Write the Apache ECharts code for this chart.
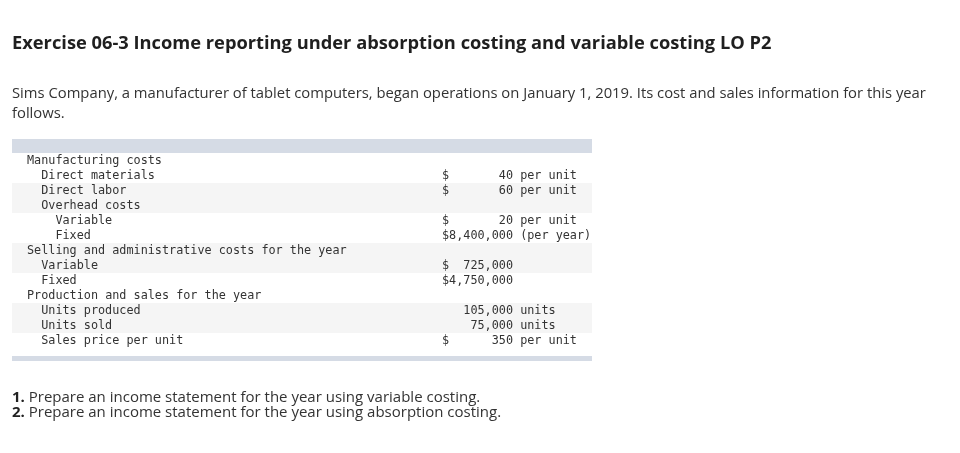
<!DOCTYPE html>
<html>
<head>
<meta charset="utf-8">
<script src="https://cdn.jsdelivr.net/npm/echarts@6/dist/echarts.min.js"></script>
<style>
html,body{margin:0;padding:0;background:#fff;}
#c{width:960px;height:453px;}
</style>
</head>
<body>
<div id="c"></div>
<script>
// ---- data ----
var heading = "Exercise 06-3 Income reporting under absorption costing and variable costing LO P2";
var introLines = [
  "Sims Company, a manufacturer of tablet computers, began operations on January 1, 2019. Its cost and sales information for this year",
  "follows."
];
var rowLabels = [
  "Manufacturing costs",
  "Direct materials",
  "Direct labor",
  "Overhead costs",
  "Variable",
  "Fixed",
  "Selling and administrative costs for the year",
  "Variable",
  "Fixed",
  "Production and sales for the year",
  "Units produced",
  "Units sold",
  "Sales price per unit"
];
var rowIndent = [0, 1, 1, 1, 2, 2, 0, 1, 1, 0, 1, 1, 1];
var rowAmounts = [null, 40, 60, null, 20, 8400000, null, 725000, 4750000, null, 105000, 75000, 350];
var rowDollar = [false, true, true, false, true, true, false, true, true, false, false, false, true];
var rowSuffix = ["", "per unit", "per unit", "", "per unit", "(per year)", "", "", "", "", "units", "units", "per unit"];
var questions = [
  ["1.", "Prepare an income statement for the year using variable costing."],
  ["2.", "Prepare an income statement for the year using absorption costing."]
];

// ---- build ----
function valueText(i) {
  if (rowAmounts[i] == null) return "";
  var s = (rowDollar[i] ? "$" : " ") + rowAmounts[i].toLocaleString("en-US").padStart(9, " ");
  if (rowSuffix[i]) s += " " + rowSuffix[i];
  return s;
}
var seriesData = rowLabels.map(function (l, i) { return [0, i]; });

var MONO = "11.8px 'DejaVu Sans Mono', monospace";
var SANS = "'Open Sans', Lato, sans-serif";

var chart = echarts.init(document.getElementById("c"), null, { renderer: "canvas" });
chart.setOption({
  backgroundColor: "#ffffff",
  animation: false,
  title: [
    {
      text: heading, left: 12, top: 34, padding: 0,
      textStyle: { fontFamily: SANS, fontSize: 18.3, fontWeight: 700, color: "#1f1f1f", lineHeight: 20 }
    },
    {
      text: introLines.join("\n"), left: 12, top: 84, padding: 0,
      textStyle: { fontFamily: SANS, fontSize: 14.8, fontWeight: 400, color: "#333333", lineHeight: 20 }
    },
    {
      text: questions.map(function (q) { return "{b|" + q[0] + "}{n| " + q[1] + "}"; }).join("\n"),
      left: 12, top: 390, padding: 0,
      textStyle: {
        fontFamily: SANS, fontSize: 15, fontWeight: 400, color: "#333333", lineHeight: 15,
        rich: {
          b: { fontFamily: SANS, fontSize: 15, fontWeight: 700, color: "#222222", lineHeight: 15 },
          n: { fontFamily: SANS, fontSize: 15, fontWeight: 400, color: "#333333", lineHeight: 15 }
        }
      }
    }
  ],
  grid: { left: 12, top: 153, width: 580, height: 195, containLabel: false },
  xAxis: { type: "value", min: 0, max: 1, show: false },
  yAxis: {
    type: "category", inverse: true, data: rowLabels,
    axisLine: { show: false }, axisTick: { show: false }, axisLabel: { show: false },
    splitLine: { show: false },
    splitArea: { show: true, areaStyle: { color: ["#ffffff", "#f5f5f5"] } }
  },
  graphic: [
    { type: "rect", shape: { x: 12, y: 139, width: 580, height: 14 }, style: { fill: "#d5dbe5" } },
    { type: "rect", shape: { x: 12, y: 356, width: 580, height: 5 }, style: { fill: "#d5dbe5" } }
  ],
  series: [{
    type: "custom",
    coordinateSystem: "cartesian2d",
    encode: { x: 0, y: 1 },
    data: seriesData,
    renderItem: function (params, api) {
      var idx = api.value(1);
      var p = api.coord([0, idx]);
      return {
        type: "group",
        children: [
          { type: "text", style: { text: rowLabels[idx], x: p[0] + 15 + rowIndent[idx] * 14.2, y: p[1] + 0.5, font: MONO, fill: "#333333", verticalAlign: "middle", align: "left" } },
          { type: "text", style: { text: valueText(idx), x: p[0] + 430, y: p[1] + 0.5, font: MONO, fill: "#333333", verticalAlign: "middle", align: "left" } }
        ]
      };
    }
  }]
});
</script>
</body>
</html>
